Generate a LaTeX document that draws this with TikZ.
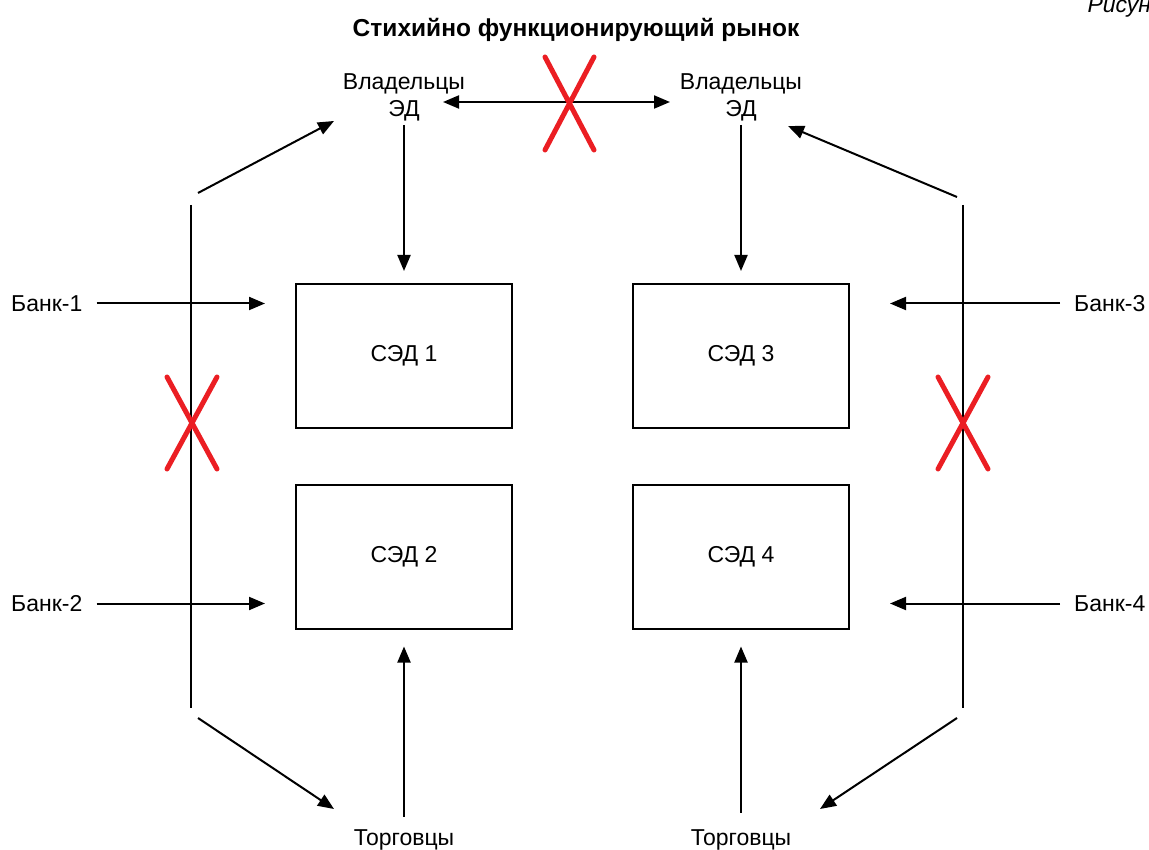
\documentclass[tikz,border=0pt]{standalone}
\usepackage{fontspec}
\setmainfont{Liberation Sans}
\usetikzlibrary{arrows.meta}
\tikzset{
  ln/.style={line width=2pt, black},
  arr/.style={ln, -{Triangle[length=16pt,width=13pt]}},
  darr/.style={ln, {Triangle[length=16pt,width=13pt]}-{Triangle[length=16pt,width=13pt]}},
  sed/.style={draw, line width=2pt, minimum width=216pt, minimum height=144pt, inner sep=0pt, font=\fontsize{23}{27}\selectfont},
  lbl/.style={inner sep=2pt, font=\fontsize{23}{27}\selectfont, align=center},
  redx/.style={line width=5pt, color=xred, line cap=round},
}
\definecolor{xred}{RGB}{235,30,35}
\begin{document}
\begin{tikzpicture}[x=1pt,y=-1pt]
\useasboundingbox (0,0) rectangle (1149,850);
% title
\node[font=\bfseries\fontsize{24.5}{28}\selectfont] (title) at (576,30) {Стихийно функционирующий рынок};
\node[anchor=base west, font=\itshape\fontsize{23}{27}\selectfont] (fig) at (1084,13) {Рисун};
% owners
\node[lbl] (o1) at (404,97) {Владельцы\\ЭД};
\node[lbl] (o2) at (741,97) {Владельцы\\ЭД};
% boxes
\node[sed] (s1) at (404,356) {СЭД 1};
\node[sed] (s2) at (404,556.5) {СЭД 2};
\node[sed] (s3) at (741,356) {СЭД 3};
\node[sed] (s4) at (741,556.5) {СЭД 4};
% banks
\node[lbl, anchor=west] (b1) at (9,303.5) {Банк-1};
\node[lbl, anchor=west] (b2) at (9,603.5) {Банк-2};
\node[lbl, anchor=west] (b3) at (1072,303.5) {Банк-3};
\node[lbl, anchor=west] (b4) at (1072,603.5) {Банк-4};
% traders
\node[lbl] (t1) at (404,840) {Торговцы};
\node[lbl] (t2) at (741,840) {Торговцы};
% coordinates
\coordinate (h1) at (443,102);
\coordinate (h2) at (670,102);
\coordinate (lv1) at (191,205);
\coordinate (lv2) at (191,708);
\coordinate (rv1) at (963,205);
\coordinate (rv2) at (963,708);
\coordinate (lu1) at (198,193);
\coordinate (lu2) at (334,121);
\coordinate (ld1) at (198,718);
\coordinate (ld2) at (334,809);
\coordinate (ru1) at (957,197);
\coordinate (ru2) at (788,126);
\coordinate (rd1) at (957,718);
\coordinate (rd2) at (820,809);
% connectors
\draw[darr] (h1) -- (h2);
\draw[arr, shorten <=2pt, shorten >=12pt] (o1.south) -- (s1.north);
\draw[arr, shorten <=2pt, shorten >=12pt] (o2.south) -- (s3.north);
\draw[arr, shorten <=12pt, shorten >=30pt] (b1.east) -- (s1.west |- b1.east);
\draw[arr, shorten <=12pt, shorten >=30pt] (b2.east) -- (s2.west |- b2.east);
\draw[arr, shorten <=12pt, shorten >=40pt] (b3.west) -- (s3.east |- b3.west);
\draw[arr, shorten <=12pt, shorten >=40pt] (b4.west) -- (s4.east |- b4.west);
\draw[arr, shorten <=11pt, shorten >=17pt] (t1.north) -- (s2.south);
\draw[arr, shorten <=15pt, shorten >=17pt] (t2.north) -- (s4.south);
\draw[ln] (lv1) -- (lv2);
\draw[ln] (rv1) -- (rv2);
\draw[arr] (lu1) -- (lu2);
\draw[arr] (ld1) -- (ld2);
\draw[arr] (ru1) -- (ru2);
\draw[arr] (rd1) -- (rd2);
% red crosses
\draw[redx] (545,57) -- (594,150) (594,57) -- (545,150);
\draw[redx] (167,377) -- (217,469) (217,377) -- (167,469);
\draw[redx] (938,377) -- (988,469) (988,377) -- (938,469);
\end{tikzpicture}
\end{document}
